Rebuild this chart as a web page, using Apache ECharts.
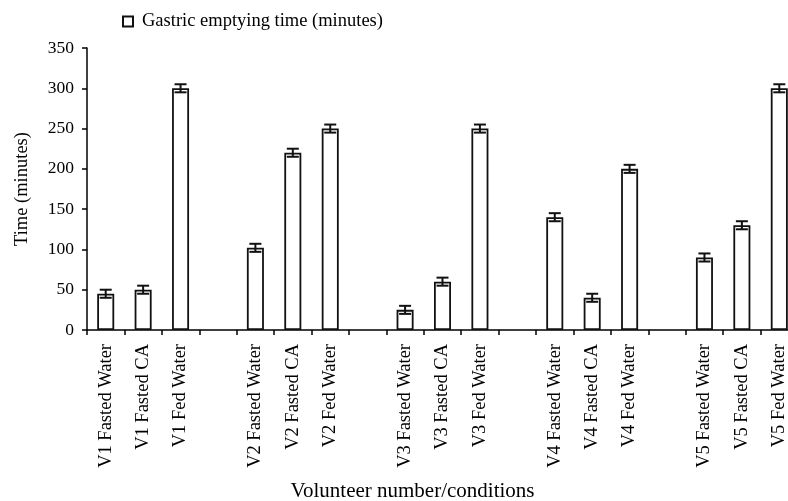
<!DOCTYPE html>
<html><head><meta charset="utf-8">
<script src="https://cdn.jsdelivr.net/npm/echarts@6/dist/echarts.min.js"></script>
<style>html,body{margin:0;padding:0;background:#fff}#c{width:788px;height:501px}</style>
</head><body><div id="c"></div>
<script>
const categories = ['V1 Fasted Water','V1 Fasted CA','V1 Fed Water','',
  'V2 Fasted Water','V2 Fasted CA','V2 Fed Water','',
  'V3 Fasted Water','V3 Fasted CA','V3 Fed Water','',
  'V4 Fasted Water','V4 Fasted CA','V4 Fed Water','',
  'V5 Fasted Water','V5 Fasted CA','V5 Fed Water'];
const times = [45,50,300,null, 102,220,250,null, 25,60,250,null, 140,40,200,null, 90,130,300];
const errors = [5,5,5,null, 5,5,5,null, 5,5,5,null, 5,5,5,null, 5,5,5];
const yTicks = [0,50,100,150,200,250,300,350];

const font = 'Liberation Serif';
const errData = times.map((v,i)=> v==null ? null : [i, v-errors[i], v+errors[i]]).filter(d=>d);
const chart = echarts.init(document.getElementById('c'));
chart.setOption({
  animation:false,
  textStyle:{fontFamily:font,color:'#000'},
  legend:{
    data:['Gastric emptying time (minutes)'],
    left:117, top:7, itemWidth:10, itemHeight:10, itemGap:4,
    icon:'rect',
    textStyle:{fontFamily:font,fontSize:18.5,color:'#000',padding:[0,0,0,4]}
  },
  grid:{left:87, top:48, width:711, height:282, containLabel:false, outerBoundsMode:'none'},
  xAxis:{
    type:'category', data:categories,
    name:'Volunteer number/conditions', nameLocation:'middle', nameGap:151,
    nameTextStyle:{fontFamily:font,fontSize:21,color:'#000',padding:[0,60,0,0]},
    axisLine:{lineStyle:{color:'#000',width:1.5}},
    axisTick:{show:true,length:5,alignWithLabel:false,interval:0,lineStyle:{color:'#000',width:1.5}},
    axisLabel:{rotate:90,interval:0,fontFamily:font,fontSize:18.5,color:'#000',margin:14}
  },
  yAxis:{
    type:'value', min:yTicks[0], max:yTicks[yTicks.length-1], interval:50,
    name:'Time (minutes)', nameLocation:'middle', nameGap:55,
    nameTextStyle:{fontFamily:font,fontSize:18.5,color:'#000'},
    axisLine:{show:true,lineStyle:{color:'#000',width:1.5}},
    axisTick:{show:true,length:5,lineStyle:{color:'#000',width:1.5}},
    axisLabel:{fontFamily:font,fontSize:17.5,color:'#000',margin:13},
    splitLine:{show:false}
  },
  series:[
    {name:'Gastric emptying time (minutes)', type:'bar', data:times, barWidth:17,
     itemStyle:{color:'#fff',borderColor:'#111',borderWidth:1.8}},
    {type:'custom', data:errData, z:10,
     renderItem:function(params,api){
       const x=api.value(0), lo=api.coord([x,api.value(1)]), hi=api.coord([x,api.value(2)]);
       const hw=6;
       const st={stroke:'#111',lineWidth:2};
       return {type:'group',children:[
         {type:'line',shape:{x1:lo[0],y1:lo[1],x2:hi[0],y2:hi[1]},style:st},
         {type:'line',shape:{x1:lo[0]-hw,y1:lo[1],x2:lo[0]+hw,y2:lo[1]},style:st},
         {type:'line',shape:{x1:hi[0]-hw,y1:hi[1],x2:hi[0]+hw,y2:hi[1]},style:st}
       ]};
     }}
  ]
});
</script></body></html>
